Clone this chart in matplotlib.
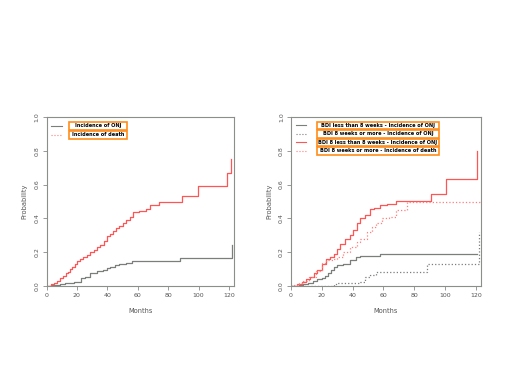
import matplotlib
matplotlib.use("Agg")
import matplotlib.pyplot as plt
from matplotlib.patches import Rectangle

# ---- data: left panel ----
left_months_onj = [0, 3, 6, 9, 12, 15, 18, 20, 23, 25, 28.7, 33, 37, 39.5, 42, 45, 48, 52.6, 56, 88, 121.8]
left_onj = [0, 0.003, 0.006, 0.01, 0.015, 0.02, 0.024, 0.026, 0.05, 0.056, 0.076, 0.086, 0.095, 0.106, 0.11, 0.122, 0.13, 0.136, 0.146, 0.164, 0.245]
left_months_death = [0, 3, 5, 7, 9, 11, 12.5, 14, 15.5, 17, 18.5, 20, 22, 24, 26.5, 28.5, 31, 33, 35, 37.5, 39.5,
                     42, 44, 46, 48, 50.5, 52.5, 55, 57, 61, 65.5, 68, 74, 89, 99.5, 118.5, 121.5]
left_death = [0, 0.01, 0.02, 0.03, 0.045, 0.06, 0.075, 0.085, 0.10, 0.115, 0.13, 0.145, 0.16, 0.17, 0.185, 0.20,
              0.215, 0.23, 0.245, 0.265, 0.295, 0.31, 0.325, 0.345, 0.355, 0.375, 0.39, 0.41, 0.435, 0.445, 0.455,
              0.48, 0.50, 0.53, 0.59, 0.67, 0.75]
left_labels = ["Incidence of ONJ", "Incidence of death"]

# ---- data: right panel ----
r_months_onj_lt8 = [0, 5, 8, 11, 14, 17, 20, 22, 24, 26, 28, 30, 34, 38, 42, 45, 57.5, 120.6]
r_onj_lt8 = [0, 0.005, 0.012, 0.02, 0.03, 0.04, 0.045, 0.06, 0.075, 0.095, 0.11, 0.125, 0.133, 0.153, 0.172, 0.178, 0.19, 0.19]
r_months_onj_ge8 = [0, 28, 30, 33, 45, 48, 51.5, 55, 88.5, 122]
r_onj_ge8 = [0, 0.01, 0.015, 0.02, 0.025, 0.055, 0.065, 0.085, 0.13, 0.32]
r_months_death_lt8 = [0, 4, 7, 10, 12.5, 15, 17, 20, 23, 25.5, 28, 30, 31.5, 35, 38.5, 40.5, 43, 45, 48, 51.5,
                      54, 58, 62, 68, 90.6, 100.4, 121]
r_death_lt8 = [0, 0.01, 0.025, 0.04, 0.055, 0.075, 0.095, 0.13, 0.16, 0.17, 0.19, 0.22, 0.25, 0.28, 0.30, 0.33,
               0.37, 0.40, 0.42, 0.455, 0.46, 0.48, 0.487, 0.505, 0.545, 0.633, 0.80]
r_months_death_ge8 = [0, 2, 5, 8, 12, 16, 20, 23, 27, 30, 34, 38.5, 43, 45, 49, 52.5, 55, 59, 63.5, 68, 75.5, 123]
r_death_ge8 = [0, 0.005, 0.015, 0.03, 0.055, 0.09, 0.135, 0.153, 0.16, 0.172, 0.20, 0.23, 0.26, 0.28, 0.32, 0.35,
               0.37, 0.40, 0.41, 0.447, 0.496, 0.496]
right_labels = ["BDI less than 8 weeks - Incidence of ONJ",
                "BDI 8 weeks or more - Incidence of ONJ",
                "BDI 8 less than 8 weeks - Incidence of ONJ",
                "BDI 8 weeks or more - Incidence of death"]

xticks = [0, 20, 40, 60, 80, 100, 120]
yticks = [0.0, 0.2, 0.4, 0.6, 0.8, 1.0]

GRAY = "#7a7f7a"
RED = "#ff5555"
PINK = "#ff7f7f"
ORANGE = "#ff8c1a"
TXT = "#555555"

fig = plt.figure(figsize=(5.2, 3.9), dpi=100)
W, H = 520, 390


def make_axes(x0, x1, y0, y1):
    ax = fig.add_axes([x0 / W, 1 - y1 / H, (x1 - x0) / W, (y1 - y0) / H])
    ax.set_xlim(0, 123.3)
    ax.set_ylim(0, 1.0)
    ax.set_xticks(xticks)
    ax.set_yticks(yticks)
    ax.set_xticklabels([str(t) for t in xticks])
    ax.set_yticklabels([f"{t:.1f}" for t in yticks], rotation=90, va="center")
    ax.tick_params(direction="out", length=3, width=0.6, colors="#888888", labelcolor=TXT,
                   labelsize=4.5, pad=2)
    for s in ax.spines.values():
        s.set_color("#8a8f8a")
        s.set_linewidth(0.8)
    ax.set_xlabel("Months", fontsize=4.8, color=TXT, labelpad=7)
    ax.set_ylabel("Probability", fontsize=4.8, color=TXT, labelpad=5)
    return ax


def legend(ax, labels, styles, bx0, bx1, top_px, row_h, step_px, ax_top, ax_h):
    for i, (lab, (col, ls)) in enumerate(zip(labels, styles)):
        top = top_px + i * step_px
        yt = 1 - (top - ax_top) / ax_h
        yb = 1 - (top + row_h - ax_top) / ax_h
        ax.add_patch(Rectangle((bx0, yb), bx1 - bx0, yt - yb, transform=ax.transAxes,
                               facecolor="white", edgecolor=ORANGE, linewidth=1.2, zorder=5))
        ax.text((bx0 + bx1) / 2, (yt + yb) / 2, lab, transform=ax.transAxes, fontsize=3.6,
                fontweight="bold", color="black", ha="center", va="center", zorder=6)
        ym = (yt + yb) / 2
        ax.plot([0.025, 0.08], [ym, ym], transform=ax.transAxes, color=col, ls=ls, lw=0.8, zorder=6)


# left panel
axL = make_axes(46.5, 234, 117, 286)
axL.plot(left_months_onj, left_onj, drawstyle="steps-post", color=GRAY, lw=0.9)
axL.plot(left_months_death, left_death, drawstyle="steps-post", color=RED, lw=0.9)
legend(axL, left_labels, [(GRAY, "-"), (PINK, ":")], 0.12, 0.43, 121.5, 8, 9, 117, 169)

# right panel
axR = make_axes(291, 481, 117, 286)
axR.plot(r_months_onj_lt8, r_onj_lt8, drawstyle="steps-post", color=GRAY, lw=0.9)
axR.plot(r_months_onj_ge8, r_onj_ge8, drawstyle="steps-post", color=GRAY, lw=0.9, ls=":")
axR.plot(r_months_death_lt8, r_death_lt8, drawstyle="steps-post", color=RED, lw=0.9)
axR.plot(r_months_death_ge8, r_death_ge8, drawstyle="steps-post", color=PINK, lw=0.9, ls=":")
legend(axR, right_labels, [(GRAY, "-"), (GRAY, ":"), (RED, "-"), (PINK, ":")],
       0.137, 0.779, 121.5, 7.5, 8.5, 117, 169)

fig.savefig("out.png", dpi=100)
